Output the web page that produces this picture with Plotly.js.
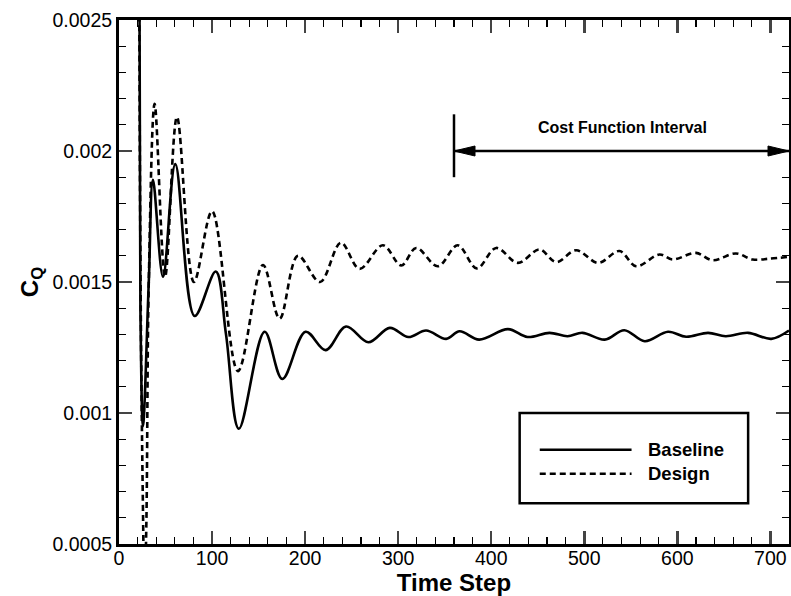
<!DOCTYPE html>
<html>
<head>
<meta charset="utf-8">
<script src="https://cdn.plot.ly/plotly-3.0.1.min.js"></script>
<style>html,body{margin:0;padding:0;background:#fff;}#chart{width:791px;height:596px;}</style>
</head>
<body>
<div id="chart"></div>
<script>
// Baseline series (time step, C_Q)
var baselineT = [20, 23, 25.8, 32, 36.5, 47.3, 60.5, 81.3, 104, 115, 128.8, 156.5, 175.5, 200.5, 222, 244, 268, 291, 311, 330, 351.6, 366, 387, 418, 439, 462.6, 482, 498, 522, 543, 565, 590, 609.5, 633, 652, 676, 701, 720];
var baselineQ = [0.0050, 0.0014, 0.00095, 0.0015, 0.00189, 0.00152, 0.00195, 0.00137, 0.00154, 0.0013, 0.00094, 0.00131, 0.00113, 0.00131, 0.00124, 0.00133, 0.00127, 0.001325, 0.00129, 0.001315, 0.001283, 0.001312, 0.00128, 0.00132, 0.00129, 0.001306, 0.001293, 0.001306, 0.00128, 0.001316, 0.001274, 0.00131, 0.001291, 0.001306, 0.001293, 0.001306, 0.001283, 0.001315];

// Design series (time step, C_Q)
var designT = [20, 23, 25.5, 27.5, 29.5, 32, 38.3, 49.5, 62.3, 80.5, 100, 127.8, 154.7, 172.6, 192.3, 216, 238.5, 258.5, 283.6, 303.3, 319.4, 342.6, 364, 384.5, 405.3, 428.6, 451.9, 469.8, 491.3, 515, 537.8, 555.7, 580.8, 595, 620, 638, 663, 681, 699, 720];
var designQ = [0.0050, 0.0016, 0.0007, 0.0003, 0.0006, 0.0015, 0.00218, 0.00152, 0.00213, 0.0015, 0.00177, 0.00116, 0.001565, 0.00136, 0.0016, 0.0015, 0.00165, 0.00155, 0.00164, 0.001563, 0.00163, 0.00156, 0.00164, 0.001552, 0.00163, 0.001573, 0.001624, 0.001576, 0.001621, 0.001573, 0.001618, 0.00156, 0.001605, 0.001586, 0.001611, 0.001583, 0.001609, 0.001586, 0.001589, 0.001596];

var seriesNames = ["Baseline", "Design"];
var xTickVals = [0, 100, 200, 300, 400, 500, 600, 700];
var yTickVals = [0.0005, 0.001, 0.0015, 0.002, 0.0025];
var yTickText = ["0.0005", "0.001", "0.0015", "0.002", "0.0025"];
var intervalStart = 360, intervalEnd = 720, intervalLevel = 0.002;
var intervalLabel = "Cost Function Interval";

var FONT = "Liberation Sans, Arial, Helvetica, sans-serif";

var traces = [
  {x: baselineT, y: baselineQ, name: seriesNames[0], type: "scatter", mode: "lines",
   line: {color: "#000", width: 2.6, shape: "spline", smoothing: 1}, showlegend: false},
  {x: designT, y: designQ, name: seriesNames[1], type: "scatter", mode: "lines",
   line: {color: "#000", width: 2.6, shape: "spline", smoothing: 1, dash: "6px,4px"}, showlegend: false}
];

// legend placement (paper coords)
var lgX0 = 0.598, lgX1 = 0.939, lgY0 = 0.078, lgY1 = 0.250;
var lnX0 = 0.628, lnX1 = 0.765, lnYB = 0.180, lnYD = 0.134, txX = 0.787;

function arrowHead(xAnchor, dir) {
  // dir = +1 points right, -1 points left; pixel-sized triangle anchored at tip
  var L = 21 * dir, H = 5;
  return {type: "path", xref: "x", yref: "y", xsizemode: "pixel", ysizemode: "pixel",
    xanchor: xAnchor, yanchor: intervalLevel,
    path: "M0,0 L" + (-L) + "," + H + " L" + (-L) + "," + (-H) + " Z",
    fillcolor: "#000", line: {color: "#000", width: 1}};
}

var layout = {
  width: 791, height: 596,
  margin: {l: 119, r: 2, t: 20, b: 52},
  paper_bgcolor: "#fff", plot_bgcolor: "#fff",
  font: {family: FONT, color: "#000"},
  xaxis: {
    range: [0, 720], tickvals: xTickVals, ticks: "inside", ticklen: 13, tickwidth: 2.5,
    showline: true, linewidth: 3, linecolor: "#000", mirror: "ticks", showgrid: false, zeroline: false,
    tickfont: {size: 19.5, family: FONT}, ticklabelstandoff: -5,
    minor: {dtick: 20, tick0: 0, ticks: "inside", ticklen: 7, tickwidth: 1.2, tickcolor: "#000", showgrid: false},
    title: {text: "<b>Time Step</b>", font: {size: 24, family: FONT}, standoff: 6}
  },
  yaxis: {
    range: [0.0005, 0.0025], tickvals: yTickVals, ticktext: yTickText, ticks: "inside", ticklen: 13, tickwidth: 2.5,
    showline: true, linewidth: 3, linecolor: "#000", mirror: "ticks", showgrid: false, zeroline: false,
    tickfont: {size: 19.5, family: FONT},
    minor: {dtick: 0.0001, tick0: 0, ticks: "inside", ticklen: 7, tickwidth: 1.2, tickcolor: "#000", showgrid: false},
    title: {text: "<b>C<sub>Q</sub></b>", font: {size: 24, family: FONT}, standoff: 8}
  },
  shapes: [
    {type: "line", xref: "x", yref: "y", x0: intervalStart, x1: intervalStart, y0: 0.0019, y1: 0.00214,
     line: {color: "#000", width: 2.5}},
    {type: "line", xref: "x", yref: "y", x0: intervalStart, x1: intervalEnd, y0: intervalLevel, y1: intervalLevel,
     line: {color: "#000", width: 2.4}},
    arrowHead(intervalStart, -1),
    arrowHead(intervalEnd, 1),
    {type: "rect", xref: "paper", yref: "paper", x0: lgX0, x1: lgX1, y0: lgY0, y1: lgY1,
     line: {color: "#000", width: 2.5}, fillcolor: "#fff"},
    {type: "line", xref: "paper", yref: "paper", x0: lnX0, x1: lnX1, y0: lnYB, y1: lnYB,
     line: {color: "#000", width: 2.6}},
    {type: "line", xref: "paper", yref: "paper", x0: lnX0, x1: lnX1, y0: lnYD, y1: lnYD,
     line: {color: "#000", width: 2.6, dash: "6px,4px"}}
  ],
  annotations: [
    {x: 541, y: 0.00209, xref: "x", yref: "y", text: "<b>" + intervalLabel + "</b>", showarrow: false,
     font: {size: 16, family: FONT, color: "#000"}, xanchor: "center", yanchor: "middle"},
    {x: txX, y: lnYB, xref: "paper", yref: "paper", text: "<b>" + seriesNames[0] + "</b>", showarrow: false,
     font: {size: 18.5, family: FONT, color: "#000"}, xanchor: "left", yanchor: "middle"},
    {x: txX, y: lnYD, xref: "paper", yref: "paper", text: "<b>" + seriesNames[1] + "</b>", showarrow: false,
     font: {size: 18.5, family: FONT, color: "#000"}, xanchor: "left", yanchor: "middle"}
  ]
};

Plotly.newPlot("chart", traces, layout, {staticPlot: true, displayModeBar: false});
</script>
</body>
</html>
